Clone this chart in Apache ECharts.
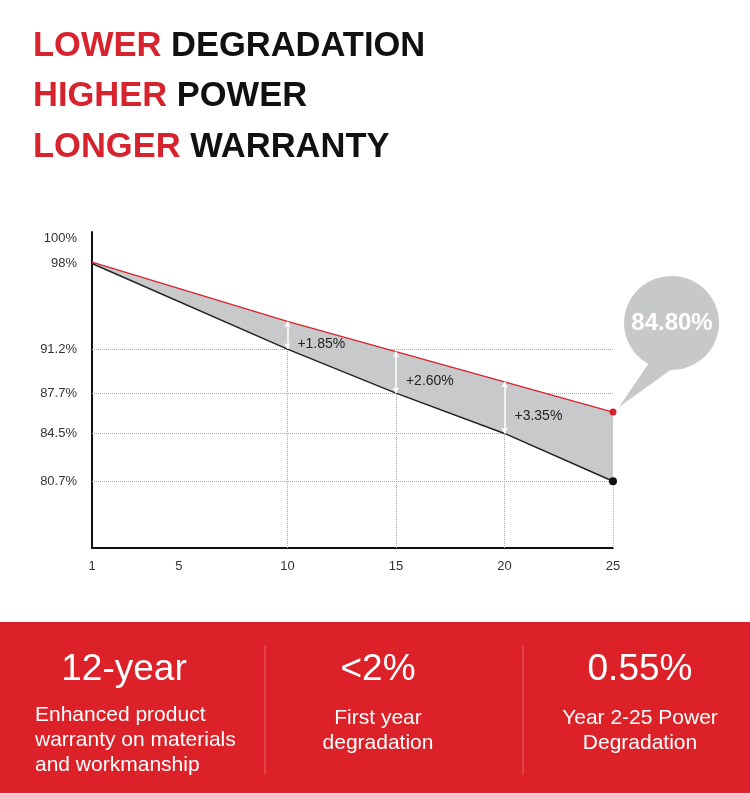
<!DOCTYPE html>
<html><head><meta charset="utf-8">
<script src="https://cdn.jsdelivr.net/npm/echarts@6/dist/echarts.min.js"></script>
<style>html,body{margin:0;padding:0;background:#fff}#c{width:750px;height:793px}</style>
</head><body><div id="c"></div>
<script>
// ---- data ----
const years = [1, 10, 15, 20, 25];
const standardValues = [98, 91.2, 87.7, 84.5, 80.7];
const productValues = [98.1, 93.4, 91.0, 88.6, 86.2];
const gapYears = [10, 15, 20];
const gapLabels = ['+1.85%', '+2.60%', '+3.35%'];
const yTickValues = [80.7, 84.5, 87.7, 91.2, 98, 100];
const xTickValues = [1, 5, 10, 15, 20, 25];
const guideValues = [91.2, 87.7, 84.5, 80.7];
const calloutText = '84.80%';
const headline = [['LOWER', 'DEGRADATION'], ['HIGHER', 'POWER'], ['LONGER', 'WARRANTY']];
const statHeads = ['12-year', '<2%', '0.55%'];
const statTexts = [['Enhanced product', 'warranty on materials', 'and workmanship'], ['First year', 'degradation'], ['Year 2-25 Power', 'Degradation']];

// ---- chart ----
const RED = '#d7232d';
const FONT = '"Liberation Sans", Arial, Helvetica, sans-serif';
const yMin = 75.4, yMax = 100.5;
const last = years.length - 1;
const pair = (vals) => years.map((x, i) => [x, vals[i]]);
const valAt = (arr, yr) => arr[years.indexOf(yr)];

const guideLines = guideValues.map(v => [{ coord: [years[0], v] }, { coord: [years[last], v] }])
  .concat(years.slice(1).map((yr, i) => [{ coord: [yr, yMin] }, { coord: [yr, standardValues[i + 1]] }]));

const arrowLines = gapYears.map(yr => [{ coord: [yr, valAt(standardValues, yr)] }, { coord: [yr, valAt(productValues, yr)] }]);

const gapPoints = gapYears.map((yr, i) => ({
  name: gapLabels[i],
  coord: [yr, (valAt(standardValues, yr) + valAt(productValues, yr)) / 2],
  symbol: 'circle', symbolSize: 0,
  label: { show: true, position: 'right', distance: 0, offset: [10, 9], formatter: '{b}', color: '#222', fontSize: 14, fontFamily: FONT }
}));

const calloutPoint = {
  name: calloutText,
  coord: [years[last], productValues[last]],
  symbol: 'path://M6 131 L35 88 A47 47 0 1 1 57 94 Z',
  symbolSize: [100, 131],
  symbolKeepAspect: false,
  symbolOffset: [56, -70.5],
  itemStyle: { color: '#c7c8ca' },
  label: { show: true, position: 'inside', offset: [3, -18.5], formatter: '{b}', color: '#fff', fontSize: 24, fontWeight: 'bold', fontFamily: FONT }
};

const graphics = [
  { type: 'rect', shape: { x: 0, y: 622, width: 750, height: 171 }, style: { fill: '#dc2128' }, z: -1 },
  { type: 'line', shape: { x1: 265, y1: 645, x2: 265, y2: 775 }, style: { stroke: 'rgba(255,255,255,0.3)', lineWidth: 1 } },
  { type: 'line', shape: { x1: 523, y1: 645, x2: 523, y2: 775 }, style: { stroke: 'rgba(255,255,255,0.3)', lineWidth: 1 } }
];
const headX = [124, 378, 640];
statHeads.forEach((t, i) => graphics.push({ type: 'text', style: { text: t, x: headX[i], y: 670, textAlign: 'center', textVerticalAlign: 'middle', fill: '#fff', font: '37px ' + FONT } }));
statTexts[0].forEach((t, j) => graphics.push({ type: 'text', style: { text: t, x: 35, y: 715 + j * 25, textAlign: 'left', textVerticalAlign: 'middle', fill: '#fff', font: '21px ' + FONT } }));
[1, 2].forEach(c => statTexts[c].forEach((t, j) => graphics.push({ type: 'text', style: { text: t, x: headX[c], y: 718 + j * 25, textAlign: 'center', textVerticalAlign: 'middle', fill: '#fff', font: '21px ' + FONT } })));

const chart = echarts.init(document.getElementById('c'), null, { renderer: 'canvas' });
chart.setOption({
  animation: false,
  backgroundColor: '#fff',
  title: {
    left: 28, top: 16,
    text: headline.map(l => `{r|${l[0]}} {k|${l[1]}}`).join('\n'),
    textStyle: {
      fontSize: 34.5, fontWeight: 'bold', fontFamily: FONT, lineHeight: 50.5, color: '#111',
      rich: {
        r: { color: RED, fontSize: 34.5, fontWeight: 'bold', fontFamily: FONT, lineHeight: 50.5 },
        k: { color: '#111', fontSize: 34.5, fontWeight: 'bold', fontFamily: FONT, lineHeight: 50.5 }
      }
    }
  },
  grid: { left: 92, right: 137, top: 232, bottom: 245, containLabel: false },
  xAxis: {
    type: 'value', min: years[0], max: years[last],
    axisLine: { show: true, lineStyle: { color: '#111', width: 2 } },
    axisTick: { show: false },
    splitLine: { show: false },
    axisLabel: { customValues: xTickValues, margin: 12, color: '#333', fontSize: 13, fontFamily: FONT }
  },
  yAxis: {
    type: 'value', min: yMin, max: yMax,
    axisLine: { show: true, lineStyle: { color: '#111', width: 2 } },
    axisTick: { show: false },
    splitLine: { show: false },
    axisLabel: { customValues: yTickValues, margin: 15, color: '#333', fontSize: 13, fontFamily: FONT, formatter: v => v + '%' }
  },
  graphic: graphics,
  series: [
    {
      name: 'band', type: 'custom', z: 2, silent: true,
      data: pair(productValues),
      renderItem: (params, api) => {
        if (params.dataIndex !== 0) return null;
        const top = years.map((x, i) => api.coord([x, productValues[i]]));
        const bottom = years.map((x, i) => api.coord([x, standardValues[i]])).reverse();
        return { type: 'polygon', shape: { points: top.concat(bottom) }, style: { fill: '#c8c9cb' } };
      }
    },
    {
      name: 'standard', type: 'line', data: pair(standardValues),
      symbol: 'circle', symbolSize: (v, p) => p.dataIndex === last ? 8 : 0,
      lineStyle: { color: '#222', width: 1.5 }, itemStyle: { color: '#111' }, z: 3,
      markLine: { z: 1, silent: true, symbol: 'none', label: { show: false }, lineStyle: { color: '#aaa', type: 'dotted', width: 1 }, data: guideLines }
    },
    {
      name: 'product', type: 'line', data: pair(productValues),
      symbol: 'circle', symbolSize: (v, p) => p.dataIndex === last ? 7 : 0,
      lineStyle: { color: RED, width: 1.3 }, itemStyle: { color: RED }, z: 4,
      markLine: { z: 5, silent: true, symbol: ['arrow', 'arrow'], symbolSize: [5, 6], label: { show: false }, lineStyle: { color: '#fff', type: 'solid', width: 1.5 }, data: arrowLines },
      markPoint: { z: 6, silent: true, data: gapPoints.concat([calloutPoint]) }
    }
  ]
});
</script></body></html>
